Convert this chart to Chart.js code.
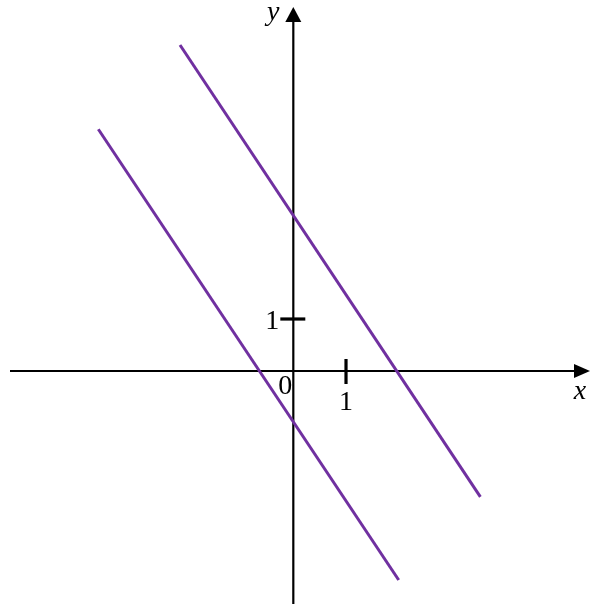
<!DOCTYPE html>
<html>
<head>
<meta charset="utf-8">
<script src="https://cdn.jsdelivr.net/npm/chart.js@4"></script>
<style>
  html, body { margin: 0; padding: 0; background: #fff; }
  #wrap { width: 594px; height: 609px; }
</style>
</head>
<body>
<div id="wrap"><canvas id="chart" width="594" height="609"></canvas></div>
<script>
// endpoints of the two parallel lines
var upperLine = [{x: -2.15, y: 6.27}, {x: 3.55, y: -2.42}];
var lowerLine = [{x: -3.7, y: 4.65}, {x: 2.0, y: -4.02}];

// tick labels on each axis
var xTicks = [1];
var yTicks = [1];
var originLabel = '0';

// visible range of the view (axis ends)
var xRange = [-5.566, 5.706];
var yRange = [-4.577, 7.135];

var lineColor = '#7030A0';

// draws the cross-shaped axes with arrows, ticks and labels
var axesPlugin = {
    id: 'crossAxes',
    beforeDatasetsDraw: function(chart) {
        var ctx = chart.ctx;
        var xs = chart.scales.x, ys = chart.scales.y;
        var x0 = xs.getPixelForValue(0), y0 = ys.getPixelForValue(0);

        ctx.save();
        ctx.strokeStyle = '#000';
        ctx.fillStyle = '#000';
        ctx.lineWidth = 2.2;

        // x axis
        ctx.beginPath();
        ctx.moveTo(10, y0);
        ctx.lineTo(576, y0);
        ctx.stroke();
        ctx.beginPath();
        ctx.moveTo(590, y0);
        ctx.lineTo(574, y0 - 7);
        ctx.lineTo(574, y0 + 7);
        ctx.closePath();
        ctx.fill();

        // y axis
        ctx.beginPath();
        ctx.moveTo(x0, 604);
        ctx.lineTo(x0, 20);
        ctx.stroke();
        ctx.beginPath();
        ctx.moveTo(x0, 7);
        ctx.lineTo(x0 - 8, 22);
        ctx.lineTo(x0 + 8, 22);
        ctx.closePath();
        ctx.fill();

        // ticks
        ctx.lineWidth = 3.2;
        ctx.font = '28px "Liberation Serif", "DejaVu Serif", serif';
        ctx.textAlign = 'center';
        ctx.textBaseline = 'alphabetic';
        xTicks.forEach(function(v) {
            var px = xs.getPixelForValue(v);
            ctx.beginPath();
            ctx.moveTo(px, y0 - 12);
            ctx.lineTo(px, y0 + 13);
            ctx.stroke();
            ctx.fillText(String(v), px, y0 + 39);
        });
        yTicks.forEach(function(v) {
            var py = ys.getPixelForValue(v);
            ctx.beginPath();
            ctx.moveTo(x0 - 13, py);
            ctx.lineTo(x0 + 12, py);
            ctx.stroke();
            ctx.fillText(String(v), x0 - 21, py + 10);
        });
        ctx.fillText(originLabel, x0 - 8, y0 + 23);

        // axis names
        ctx.font = 'italic 28px "Liberation Serif", "DejaVu Serif", serif';
        ctx.fillText('x', 580, y0 + 28);
        ctx.fillText('y', x0 - 20, 20);
        ctx.restore();
    }
};

new Chart(document.getElementById('chart'), {
    type: 'scatter',
    data: {
        datasets: [
            {data: upperLine, showLine: true, borderColor: lineColor, borderWidth: 3, pointRadius: 0},
            {data: lowerLine, showLine: true, borderColor: lineColor, borderWidth: 3, pointRadius: 0}
        ]
    },
    options: {
        responsive: false,
        animation: false,
        layout: {padding: 0},
        plugins: {legend: {display: false}, tooltip: {enabled: false}},
        scales: {
            x: {type: 'linear', display: false, min: xRange[0], max: xRange[1]},
            y: {type: 'linear', display: false, min: yRange[0], max: yRange[1]}
        }
    },
    plugins: [axesPlugin]
});
</script>
</body>
</html>
